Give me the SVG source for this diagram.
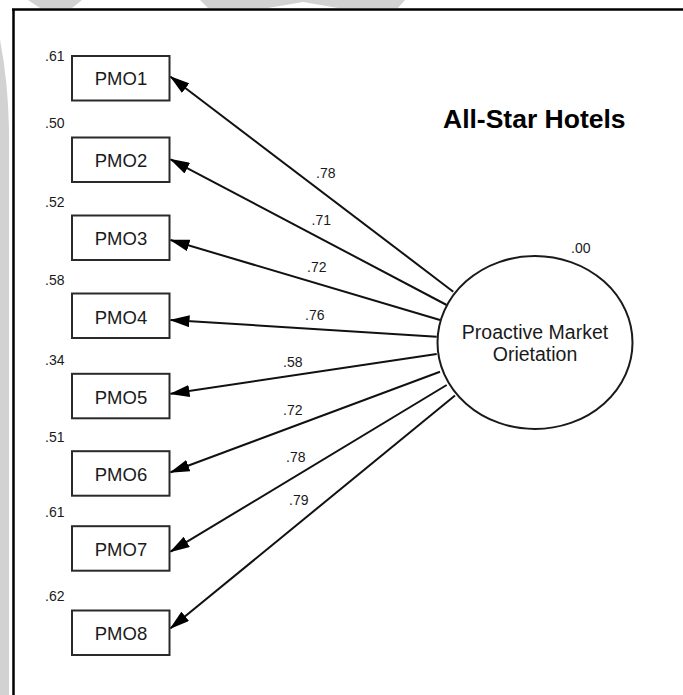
<svg xmlns="http://www.w3.org/2000/svg" width="683" height="695" viewBox="0 0 683 695">
  <style>
    .lbl { font-family: "Liberation Sans", Arial, sans-serif; font-size: 14px; fill: #1a1a1a; }
    .box { fill: #ffffff; stroke: #2a2a2a; stroke-width: 2; }
    .boxtxt { font-family: "Liberation Sans", Arial, sans-serif; font-size: 18.5px; fill: #1a1a1a; text-anchor: middle; }
    .lat { fill: #ffffff; stroke: #1a1a1a; stroke-width: 2; }
    .lattxt { font-family: "Liberation Sans", Arial, sans-serif; font-size: 19.5px; fill: #1a1a1a; text-anchor: middle; }
    .title { font-family: "Liberation Sans", Arial, sans-serif; font-size: 26.5px; font-weight: bold; fill: #000; }
    .path { stroke: #111; stroke-width: 2; fill: none; marker-end: url(#head); }
    .wm { fill: #d2d2d2; }
  </style>
  <defs>
    <marker id="head" viewBox="0 0 20 12" refX="19" refY="6" markerWidth="20" markerHeight="12" markerUnits="userSpaceOnUse" orient="auto">
      <path d="M0,0 L20,6 L0,12 Z" fill="#000"/>
    </marker>
  </defs>

  <rect width="683" height="695" fill="#ffffff"/>

  <!-- faint background marks -->
  <g id="background-marks">
    <path class="wm" d="M0,40 Q8,80 9,130 L9,695 L0,695 Z"/>
    <path class="wm" d="M28,0 L82,0 L72,8 L40,8 Z"/>
    <path class="wm" d="M200,0 L405,0 L398,8 L338,8 L303,2 L268,8 L208,8 Z"/>
  </g>

  <!-- frame -->
  <g id="frame" stroke="#000" stroke-width="2.5" fill="none">
    <line x1="12" y1="9.5" x2="683" y2="9.5"/>
    <line x1="13.5" y1="9.5" x2="13.5" y2="695"/>
  </g>

  <text class="title" x="443" y="127.5">All-Star Hotels</text>

  <!-- loadings -->
  <g id="connectors">
    <line class="path" x1="453.3" y1="291.7" x2="170.5" y2="76.7"/>
    <line class="path" x1="446.7" y1="305" x2="170.5" y2="159.3"/>
    <line class="path" x1="440" y1="320" x2="170.5" y2="240"/>
    <line class="path" x1="436.7" y1="336.7" x2="170.5" y2="320"/>
    <line class="path" x1="436.7" y1="354" x2="170.5" y2="393.8"/>
    <line class="path" x1="440" y1="371.7" x2="170.5" y2="472.3"/>
    <line class="path" x1="446.7" y1="385" x2="170.5" y2="551.7"/>
    <line class="path" x1="455" y1="395.5" x2="170.5" y2="628.3"/>
    <text class="lbl" x="316" y="178">.78</text>
    <text class="lbl" x="311.5" y="225">.71</text>
    <text class="lbl" x="307" y="272">.72</text>
    <text class="lbl" x="305" y="320">.76</text>
    <text class="lbl" x="283" y="367">.58</text>
    <text class="lbl" x="283" y="415">.72</text>
    <text class="lbl" x="286" y="462">.78</text>
    <text class="lbl" x="289" y="505">.79</text>
  </g>

  <g id="PMO">
    <ellipse class="lat" cx="535" cy="342.5" rx="97.5" ry="86.5"/>
    <text class="lattxt" x="535" y="338.5">Proactive Market</text>
    <text class="lattxt" x="535" y="361">Orietation</text>
    <text class="lbl" x="571" y="252.5">.00</text>
  </g>

  <g id="PMO1">
    <rect class="box" x="72" y="56" width="97.5" height="44.5"/>
    <text class="boxtxt" x="121" y="85">PMO1</text>
    <text class="lbl" x="45" y="61">.61</text>
  </g>
  <g id="PMO2">
    <rect class="box" x="72" y="137.5" width="97.5" height="44.5"/>
    <text class="boxtxt" x="121" y="166.5">PMO2</text>
    <text class="lbl" x="45" y="128">.50</text>
  </g>
  <g id="PMO3">
    <rect class="box" x="72" y="215.5" width="97.5" height="44.5"/>
    <text class="boxtxt" x="121" y="245">PMO3</text>
    <text class="lbl" x="45" y="207">.52</text>
  </g>
  <g id="PMO4">
    <rect class="box" x="72" y="293.5" width="97.5" height="44.5"/>
    <text class="boxtxt" x="121" y="324">PMO4</text>
    <text class="lbl" x="45" y="285">.58</text>
  </g>
  <g id="PMO5">
    <rect class="box" x="72" y="373.8" width="97.5" height="44.5"/>
    <text class="boxtxt" x="121" y="403.5">PMO5</text>
    <text class="lbl" x="45" y="365">.34</text>
  </g>
  <g id="PMO6">
    <rect class="box" x="72" y="451.2" width="97.5" height="44.5"/>
    <text class="boxtxt" x="121" y="481">PMO6</text>
    <text class="lbl" x="45" y="442">.51</text>
  </g>
  <g id="PMO7">
    <rect class="box" x="72" y="526.2" width="97.5" height="44.5"/>
    <text class="boxtxt" x="121" y="556">PMO7</text>
    <text class="lbl" x="45" y="517">.61</text>
  </g>
  <g id="PMO8">
    <rect class="box" x="72" y="610.5" width="97.5" height="44.5"/>
    <text class="boxtxt" x="121" y="640">PMO8</text>
    <text class="lbl" x="45" y="601">.62</text>
  </g>
</svg>
